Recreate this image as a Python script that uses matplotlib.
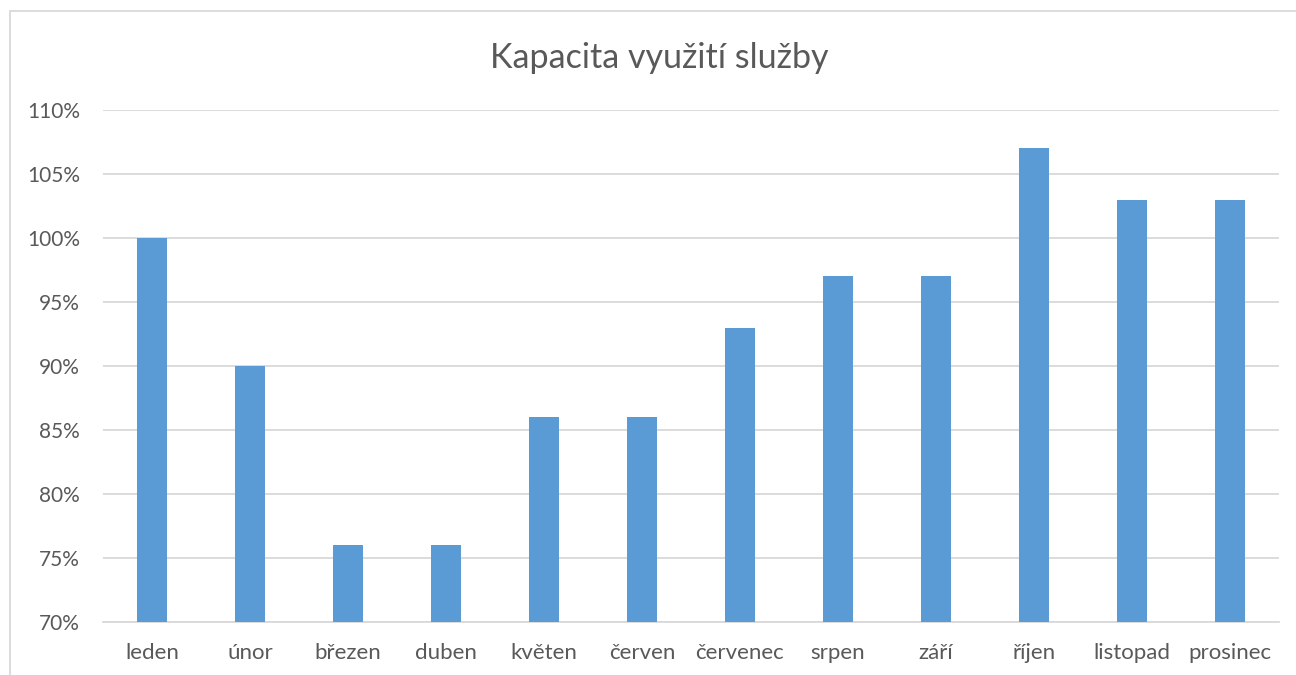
import matplotlib.pyplot as plt
from matplotlib.patches import Rectangle

months = ['leden', 'únor', 'březen', 'duben', 'květen', 'červen',
          'červenec', 'srpen', 'září', 'říjen', 'listopad', 'prosinec']
usage = [100, 90, 76, 76, 86, 86, 93, 97, 97, 107, 103, 103]
yticks = [70, 75, 80, 85, 90, 95, 100, 105, 110]

plt.rcParams['font.family'] = ['Lato', 'DejaVu Sans']
text_col = '#595959'

fig = plt.figure(figsize=(12.96, 6.75), dpi=100)
ax = fig.add_axes([103/1296, 1 - 622/675, 1176/1296, 512/675])

x = range(len(months))
ax.bar(x, usage, width=0.31, color='#5B9BD5', zorder=3)

ax.set_xlim(-0.5, len(months) - 0.5)
ax.set_ylim(70, 110)
ax.set_yticks(yticks)
ax.set_yticklabels([f'{v}%' for v in yticks])
ax.set_xticks(list(x))
ax.set_xticklabels(months)
ax.grid(axis='y', color='#D9D9D9', linewidth=1.3, zorder=0)
ax.tick_params(axis='x', length=0, labelsize=16, colors=text_col, pad=15)
ax.tick_params(axis='y', length=0, labelsize=15, colors=text_col, pad=16.5)
for s in ['top', 'right', 'left']:
    ax.spines[s].set_visible(False)
ax.spines['bottom'].set_color('#D9D9D9')
ax.spines['bottom'].set_linewidth(1.3)

fig.text(659/1296, 1 - 58/675, 'Kapacita využití služby', ha='center', va='center',
         fontsize=24.5, color=text_col)

# chart border (cut off at right and bottom)
fig.patches.append(Rectangle((10/1296, -0.05), 1.1, 1 - 11/675 + 0.05,
                             transform=fig.transFigure, fill=False,
                             edgecolor='#D9D9D9', linewidth=1.3))

fig.savefig('out.png', dpi=100)
